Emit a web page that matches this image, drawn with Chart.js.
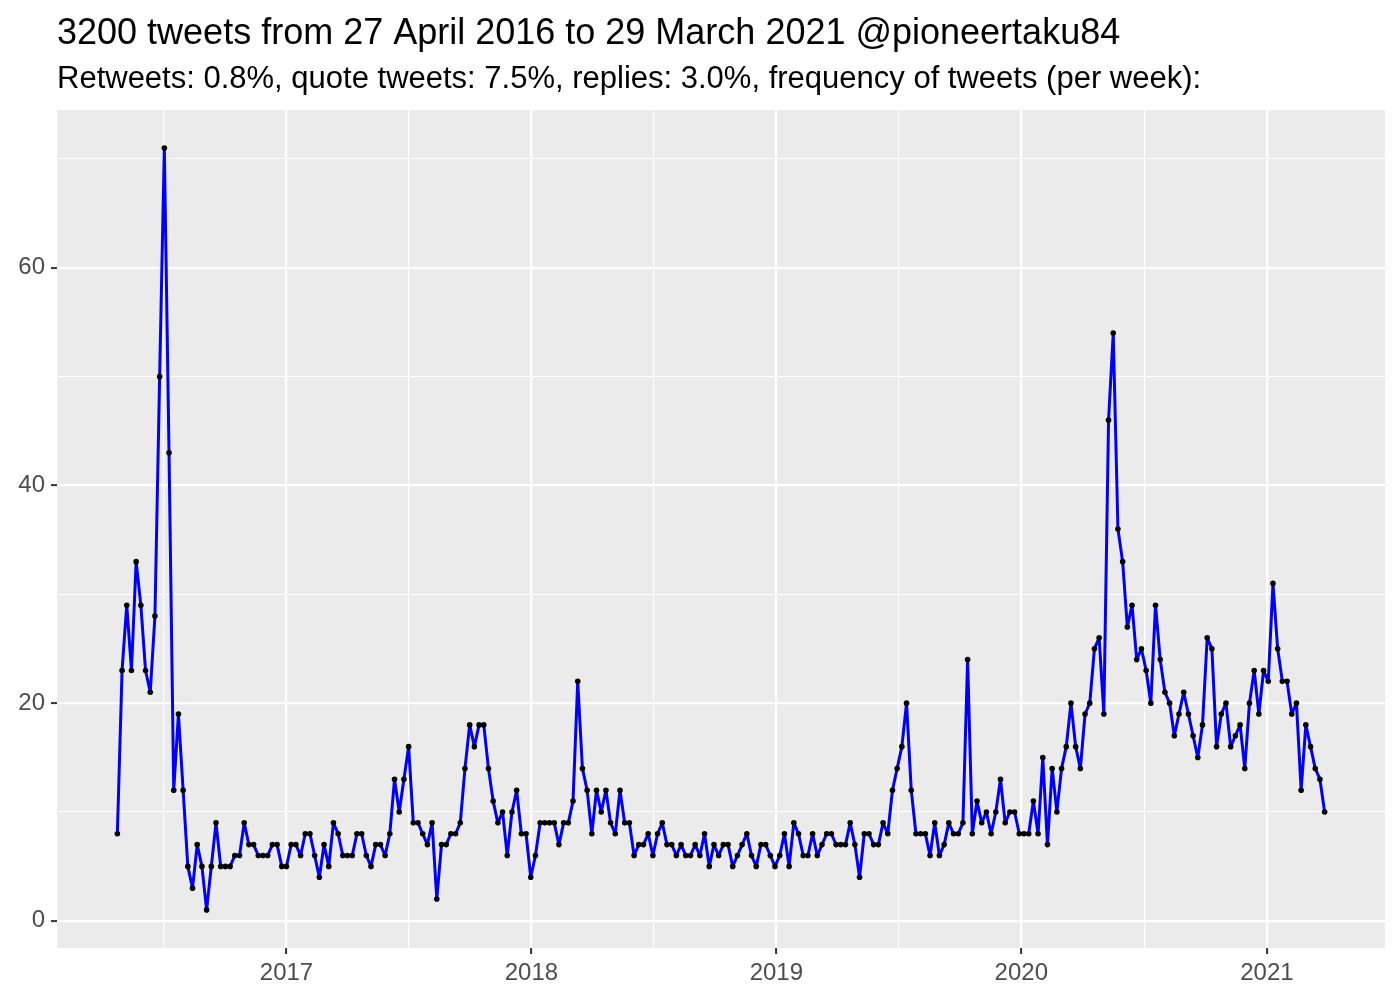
<!DOCTYPE html>
<html>
<head>
<meta charset="utf-8">
<title>tweets per week</title>
<script src="https://cdn.jsdelivr.net/npm/chart.js@4.4.0/dist/chart.umd.min.js"></script>
<style>
  html, body { margin: 0; padding: 0; background: #fff; }
  #wrap { width: 1400px; height: 1000px; }
</style>
</head>
<body>
<div id="wrap"><canvas id="line-chart"></canvas></div>
<script>
var titleText = "3200 tweets from 27 April 2016 to 29 March 2021 @pioneertaku84";
var subtitleText = "Retweets: 0.8%, quote tweets: 7.5%, replies: 3.0%, frequency of tweets (per week):";

// weekly buckets, the first one starts on Sunday 24 April 2016
var firstWeek = "2016-04-24";
var tweetsPerWeek = [
  8,23,29,23,33,29,23,21,28,50,71,43,12,19,12,5,3,7,5,1,5,9,5,5,5,6,6,9,7,7,6,
  6,6,7,7,5,5,7,7,6,8,8,6,4,7,5,9,8,6,6,6,8,8,6,5,7,7,6,8,13,10,13,16,9,9,
  8,7,9,2,7,7,8,8,9,14,18,16,18,18,14,11,9,10,6,10,12,8,8,4,6,9,9,9,9,7,9,9,11,22,14,
  12,8,12,10,12,9,8,12,9,9,6,7,7,8,6,8,9,7,7,6,7,6,6,7,6,8,5,7,6,7,7,5,6,
  7,8,6,5,7,7,6,5,6,8,5,9,8,6,6,8,6,7,8,8,7,7,7,9,7,4,8,8,7,7,9,8,
  12,14,16,20,12,8,8,8,6,9,6,7,9,8,8,9,24,8,11,9,10,8,10,13,9,10,10,8,8,8,11,8,15,7,14,10,14,
  16,20,16,14,19,20,25,26,19,46,54,36,33,27,29,24,25,23,20,29,24,21,20,17,19,21,19,17,15,18,26,25,16,19,
  20,16,17,18,14,20,23,19,23,22,31,25,22,22,19,20,12,18,16,14,13,10
];

var yearLabels = ["2017", "2018", "2019", "2020", "2021"];
var yearDates = ["2017-01-01", "2018-01-01", "2019-01-01", "2020-01-01", "2021-01-01"];
var midYearDates = ["2016-07-02", "2017-07-02T12:00:00Z", "2018-07-02T12:00:00Z", "2019-07-02T12:00:00Z", "2020-07-02"];
var yMajorTicks = [0, 20, 40, 60];
var yMinorTicks = [10, 30, 50, 70];

var ORIGIN = Date.parse("2017-01-01");
function dayOf(s) { return (Date.parse(s) - ORIGIN) / 864e5; }

var start = dayOf(firstWeek);
var points = tweetsPerWeek.map(function(v, i) { return { x: start + 7 * i, y: v }; });
var xMajor = yearDates.map(dayOf);
var xMinor = midYearDates.map(dayOf);

// same 5% expansion ggplot uses
var xLo = start, xHi = start + 7 * (tweetsPerWeek.length - 1);
var xPad = (xHi - xLo) * 0.05;
var yLo = Math.min.apply(null, tweetsPerWeek), yHi = Math.max.apply(null, tweetsPerWeek);
var yPad = (yHi - yLo) * 0.05;

var FONT = "'Liberation Sans', Arial, Helvetica, sans-serif";

function isMajorX(v) { return xMajor.some(function(m) { return Math.abs(m - v) < 0.01; }); }
function isMajorY(v) { return yMajorTicks.indexOf(v) >= 0; }

var panelBg = {
  id: 'panelBg',
  beforeDraw: function(chart) {
    var a = chart.chartArea, ctx = chart.ctx;
    ctx.save();
    ctx.fillStyle = '#EBEBEB';
    ctx.fillRect(a.left, a.top, a.right - a.left, a.bottom - a.top);
    ctx.restore();
  }
};

// titles sit flush with the panel, like ggplot does
var titles = {
  id: 'titles',
  afterDraw: function(chart) {
    var ctx = chart.ctx, x = chart.chartArea.left;
    ctx.save();
    ctx.fillStyle = '#000';
    ctx.textBaseline = 'alphabetic';
    ctx.textAlign = 'left';
    ctx.font = "36px " + FONT;
    ctx.fillText(titleText, x, 44);
    ctx.font = "31px " + FONT;
    ctx.fillText(subtitleText, x, 88);
    ctx.restore();
  }
};

new Chart(document.getElementById("line-chart"), {
  type: 'line',
  data: {
    datasets: [{
      data: points,
      borderColor: '#0000FF',
      borderWidth: 3,
      borderJoinStyle: 'round',
      borderCapStyle: 'round',
      pointRadius: 2.8,
      pointBorderWidth: 0,
      pointBackgroundColor: '#000',
      pointHoverRadius: 2.8,
      tension: 0,
      fill: false
    }]
  },
  options: {
    responsive: true,
    maintainAspectRatio: false,
    animation: false,
    layout: { padding: { top: 110, right: 15, left: 0, bottom: 0 } },
    plugins: {
      legend: { display: false },
      tooltip: { enabled: false },
      title: { display: false }
    },
    scales: {
      x: {
        type: 'linear',
        min: xLo - xPad,
        max: xHi + xPad,
        afterBuildTicks: function(scale) {
          scale.ticks = xMinor.concat(xMajor).sort(function(a, b) { return a - b; })
            .map(function(v) { return { value: v }; });
        },
        afterFit: function(scale) { scale.height = 52; },
        border: { display: false },
        grid: {
          color: '#FFFFFF',
          lineWidth: function(c) { return isMajorX(c.tick.value) ? 2.2 : 1.1; },
          tickColor: function(c) { return isMajorX(c.tick.value) ? '#333333' : 'rgba(0,0,0,0)'; },
          tickWidth: 2,
          tickLength: 6
        },
        ticks: {
          autoSkip: false,
          maxRotation: 0,
          padding: 5,
          color: '#4D4D4D',
          font: { family: FONT, size: 24 },
          callback: function(v) {
            for (var i = 0; i < xMajor.length; i++) {
              if (Math.abs(xMajor[i] - v) < 0.01) return yearLabels[i];
            }
            return '';
          }
        }
      },
      y: {
        min: yLo - yPad,
        max: yHi + yPad,
        afterBuildTicks: function(scale) {
          scale.ticks = yMajorTicks.concat(yMinorTicks).sort(function(a, b) { return a - b; })
            .map(function(v) { return { value: v }; });
        },
        afterFit: function(scale) { scale.width = 57; },
        border: { display: false },
        grid: {
          color: '#FFFFFF',
          lineWidth: function(c) { return isMajorY(c.tick.value) ? 2.2 : 1.1; },
          tickColor: function(c) { return isMajorY(c.tick.value) ? '#333333' : 'rgba(0,0,0,0)'; },
          tickWidth: 2,
          tickLength: 6
        },
        ticks: {
          padding: 6,
          color: '#4D4D4D',
          font: { family: FONT, size: 24 },
          callback: function(v) { return isMajorY(v) ? String(v) : ''; }
        }
      }
    }
  },
  plugins: [panelBg, titles]
});
</script>
</body>
</html>
